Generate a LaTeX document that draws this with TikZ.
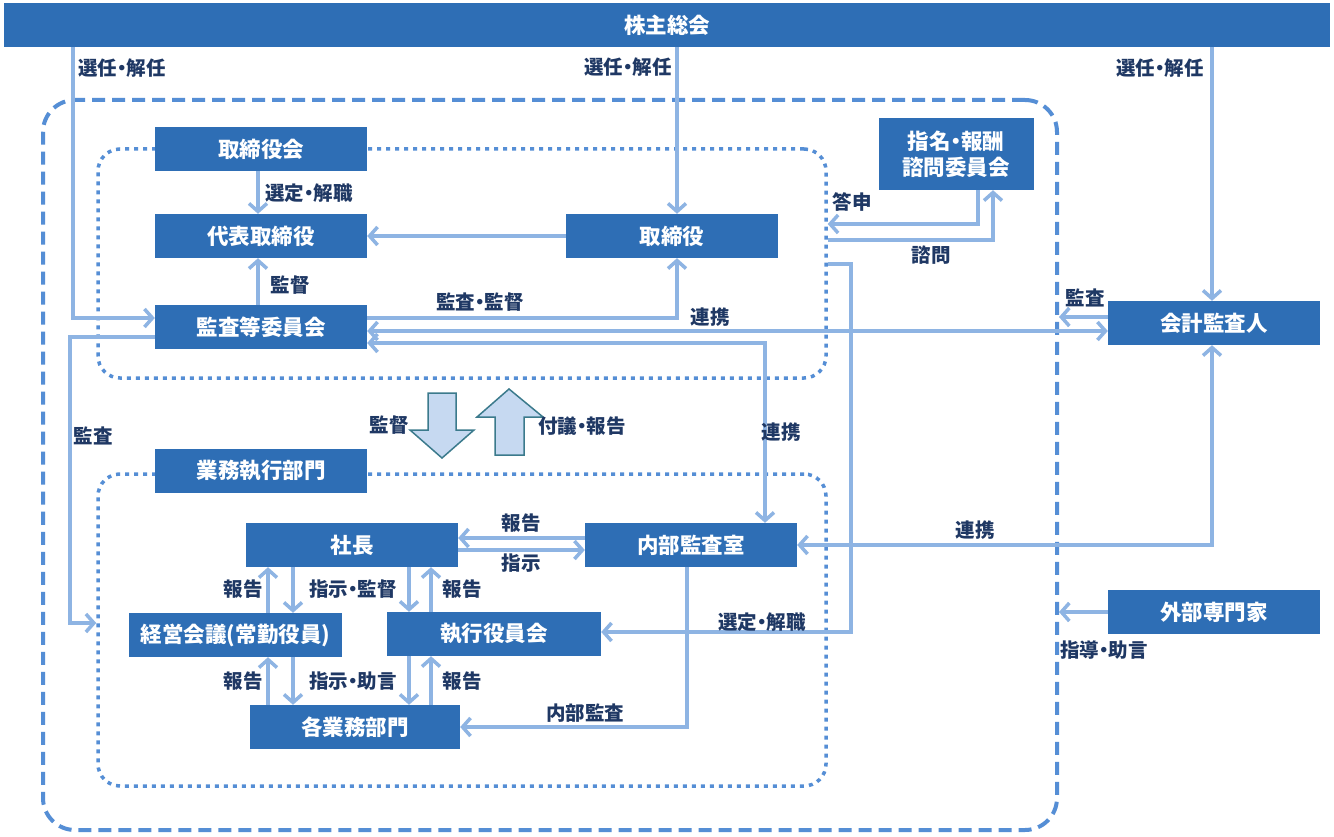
\documentclass[tikz,border=0pt]{standalone}
\usepackage{fontspec}
\setmainfont{Noto Sans CJK JP}[RawFeature=+palt]
\usepackage{tikz}
\usetikzlibrary{arrows.meta,calc}

\definecolor{boxblue}{RGB}{46,110,181}
\definecolor{lineblue}{RGB}{142,180,227}
\definecolor{dashblue}{RGB}{85,142,213}
\definecolor{labelnavy}{RGB}{31,56,100}
\definecolor{arrowfill}{RGB}{198,217,241}
\definecolor{arrowline}{RGB}{59,122,140}

\tikzset{
	box/.style={fill=boxblue, text=white, minimum width=212pt, minimum height=44pt,
		inner sep=0pt, align=center, font=\bfseries\fontsize{21.5}{25}\selectfont},
	lbl/.style={text=labelnavy, inner sep=0pt, font=\bfseries\fontsize{19.5}{22}\selectfont},
	tip/.tip={Straight Barb[length=8pt,width=18pt]},
	conn/.style={draw=lineblue, line width=3.5pt, -tip},
	conn2/.style={draw=lineblue, line width=3.5pt, tip-tip},
	group/.style={draw=dashblue, line width=3.5pt, rounded corners=22pt, dash pattern=on 4pt off 5pt},
	outer/.style={draw=dashblue, line width=4pt, rounded corners=32pt, dash pattern=on 13pt off 7pt},
	bigarrow/.style={fill=arrowfill, draw=arrowline, line width=1.5pt}
}

\begin{document}
\begin{tikzpicture}[x=1pt, y=-1pt]
			%\draw[help lines] (0,0) grid (1334,837);
			\fill[white] (0,0) rectangle (1334,837);
			\useasboundingbox (0,0) rectangle (1334,837);
			
			% frames
			\node[outer, minimum width=1014pt, minimum height=730pt] (corp) at (550,465) {};
			\node[group, minimum width=728pt, minimum height=229pt] (brdgrp) at (462,263.5) {};
			\node[group, minimum width=728pt, minimum height=312pt] (exgrp) at (462,630) {};
			
			% boxes
			\node[box, minimum width=1326pt] (soukai) at (667,25) {株主総会};
			\node[box] (torikai) at (261,149) {取締役会};
			\node[box] (daihyo) at (261,236) {代表取締役};
			\node[box] (tori) at (672,236) {取締役};
			\node[box] (kansa) at (261,327) {監査等委員会};
			\node[box, minimum width=155pt, minimum height=72pt, font=\bfseries\fontsize{21.5}{26}\selectfont] (shimei) at (956,154) {指名・報酬\\諮問委員会};
			\node[box] (kaikei) at (1214,323) {会計監査人};
			\node[box] (gaibu) at (1214,612) {外部専門家};
			\node[box] (gyomu) at (261,471) {業務執行部門};
			\node[box] (shacho) at (352,545) {社長};
			\node[box] (naibu) at (691,545) {内部監査室};
			\node[box, minimum width=213pt] (keiei) at (235.5,635) {経営会議(常勤役員)};
			\node[box, minimum width=214pt] (shikko) at (494,634) {執行役員会};
			\node[box, minimum width=210pt] (kaku) at (355,727) {各業務部門};
			
			% shareholders
			\draw[conn] (soukai.south -| 73,0) |- (kansa.west |- 0,318);
			\draw[conn] (soukai.south -| 677,0) -- (tori.north -| 677,0);
			\draw[conn] (soukai.south -| 1212,0) -- (kaikei.north -| 1212,0);
			\node[lbl] at (122,68) {選任・解任};
			\node[lbl] at (628,67) {選任・解任};
			\node[lbl] at (1160,68) {選任・解任};
			
			% board
			\draw[conn] (torikai.south -| 258,0) -- (daihyo.north -| 258,0);
			\node[lbl] at (309,193) {選定・解職};
			\draw[conn] (tori.west) -- (daihyo.east);
			\draw[conn] (kansa.north -| 258,0) -- (daihyo.south -| 258,0);
			\node[lbl] at (290,285) {監督};
			\draw[conn] (kansa.east |- 0,318) -| (tori.south -| 677,0);
			\node[lbl] at (480,302) {監査・監督};
			\draw[conn2] (kansa.east |- 0,331) -- (kaikei.west |- 0,331);
			\node[lbl] at (710,317) {連携};
			\draw[conn2] (kansa.east |- 0,343) -| (naibu.north -| 765,0);
			\node[lbl] at (781,432) {連携};
			\draw[conn] (kansa.west |- 0,337) -| (70,623) -- (exgrp.west |- 0,623);
			\node[lbl] at (93,436) {監査};
			
			% committee
			\draw[conn] (shimei.south -| 978,0) |- (brdgrp.east |- 0,224);
			\node[lbl] at (852,202) {答申};
			\draw[conn] (brdgrp.east |- 0,240) -| (shimei.south -| 993,0);
			\node[lbl] at (931,255) {諮問};
			\draw[conn] (brdgrp.east |- 0,264) -| (851,632) -- (shikko.east |- 0,632);
			\node[lbl] at (762,622) {選定・解職};
			
			% auditor, experts
			\draw[conn] (kaikei.west |- 0,317) -- (corp.east |- 0,317);
			\node[lbl] at (1085,298) {監査};
			\draw[conn2] (naibu.east) -| (kaikei.south -| 1212,0);
			\node[lbl] at (975,530) {連携};
			\draw[conn] (gaibu.west) -- (corp.east |- gaibu.west);
			\node[lbl] at (1104,650) {指導・助言};
			
			% block arrows
			\draw[bigarrow] (428,393) -- (456,393) -- (456,430) -- (474,430) -- (442,458) -- (410,430) -- (428,430) -- cycle;
			\draw[bigarrow] (495,455) -- (524,455) -- (524,417) -- (543,417) -- (509,389) -- (477,417) -- (495,417) -- cycle;
			\node[lbl] at (389,425) {監督};
			\node[lbl, anchor=west] at (538,426) {付議・報告};
			
			% execution
			\draw[conn] (naibu.west |- 0,538) -- (shacho.east |- 0,538);
			\node[lbl] at (521,523) {報告};
			\draw[conn] (shacho.east |- 0,550) -- (naibu.west |- 0,550);
			\node[lbl] at (521,563) {指示};
			\draw[conn] (keiei.north -| 268,0) -- (shacho.south -| 268,0);
			\draw[conn] (shacho.south -| 293,0) -- (keiei.north -| 293,0);
			\node[lbl] at (243,589) {報告};
			\node[lbl] at (353,589) {指示・監督};
			\draw[conn] (shacho.south -| 409,0) -- (shikko.north -| 409,0);
			\draw[conn] (shikko.north -| 431,0) -- (shacho.south -| 431,0);
			\node[lbl] at (462,589) {報告};
			\draw[conn] (kaku.north -| 268,0) -- (keiei.south -| 268,0);
			\draw[conn] (keiei.south -| 293,0) -- (kaku.north -| 293,0);
			\node[lbl] at (243,681) {報告};
			\node[lbl] at (353,681) {指示・助言};
			\draw[conn] (shikko.south -| 409,0) -- (kaku.north -| 409,0);
			\draw[conn] (kaku.north -| 431,0) -- (shikko.south -| 431,0);
			\node[lbl] at (462,681) {報告};
			\draw[conn] (naibu.south -| 687,0) |- (kaku.east |- 0,727);
			\node[lbl] at (585,713) {内部監査};
\end{tikzpicture}
\end{document}
